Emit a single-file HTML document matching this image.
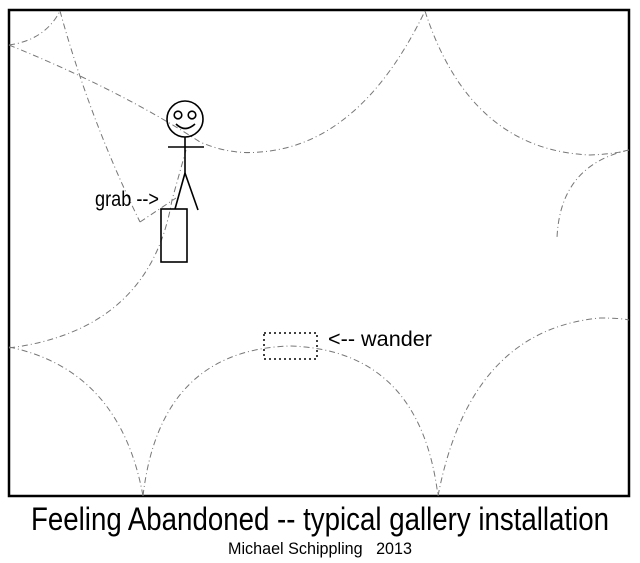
<!DOCTYPE html>
<html><head><meta charset="utf-8"><style>
html,body{margin:0;padding:0;background:#fff;}
svg{display:block;}
</style></head><body>
<svg width="640" height="563" viewBox="0 0 640 563" xmlns="http://www.w3.org/2000/svg">
<rect x="9" y="10" width="620" height="486" fill="none" stroke="#000" stroke-width="2.5"/>
<g fill="none" stroke="#777" stroke-width="1" stroke-dasharray="6,3,1,3">
<path d="M9 45 Q45 40 60 11"/>
<path d="M60 11 Q90 120 140 222"/>
<path d="M140 222 L176 198"/>
<path d="M9 45 Q120 90 200 142 Q230 155 260 152 Q360 145 425 11"/>
<path d="M9 348 Q150 330 172 200 L186 150"/>
<path d="M425 11 Q470 150 590 155 Q615 154 629 150"/>
<path d="M629 150 Q560 165 557 238"/>
<path d="M9 347 Q120 370 143 496"/>
<path d="M143 496 Q160 350 290 346 Q420 350 438 496"/>
<path d="M438 496 Q470 330 600 318 Q620 318 629 320"/>
</g>
<g fill="none" stroke="#000" stroke-width="1.6">
<circle cx="185" cy="119" r="18"/>
<circle cx="178" cy="115" r="3.8"/>
<circle cx="192" cy="115" r="3.8"/>
<path d="M176 124 Q185 133 195 124"/>
<line x1="185" y1="137" x2="185" y2="173"/>
<line x1="168" y1="147" x2="204" y2="147"/>
<line x1="185" y1="173" x2="175" y2="209"/>
<line x1="185" y1="173" x2="198" y2="210"/>
<rect x="161" y="209" width="26" height="53"/>
</g>
<rect x="264" y="333" width="53" height="26" fill="none" stroke="#000" stroke-width="1.5" stroke-dasharray="2,3"/>
<g font-family="'Liberation Sans', Arial, sans-serif" fill="#000">
<text x="95" y="206" font-size="21" textLength="64" lengthAdjust="spacingAndGlyphs">grab --&gt;</text>
<text x="328" y="346" font-size="21" textLength="104" lengthAdjust="spacingAndGlyphs">&lt;-- wander</text>
<text x="320" y="530" font-size="32" text-anchor="middle" textLength="578" lengthAdjust="spacingAndGlyphs">Feeling Abandoned -- typical gallery installation</text>
<text x="320" y="554" font-size="17" text-anchor="middle" textLength="184" lengthAdjust="spacingAndGlyphs" xml:space="preserve">Michael Schippling   2013</text>
</g>
</svg>
</body></html>
